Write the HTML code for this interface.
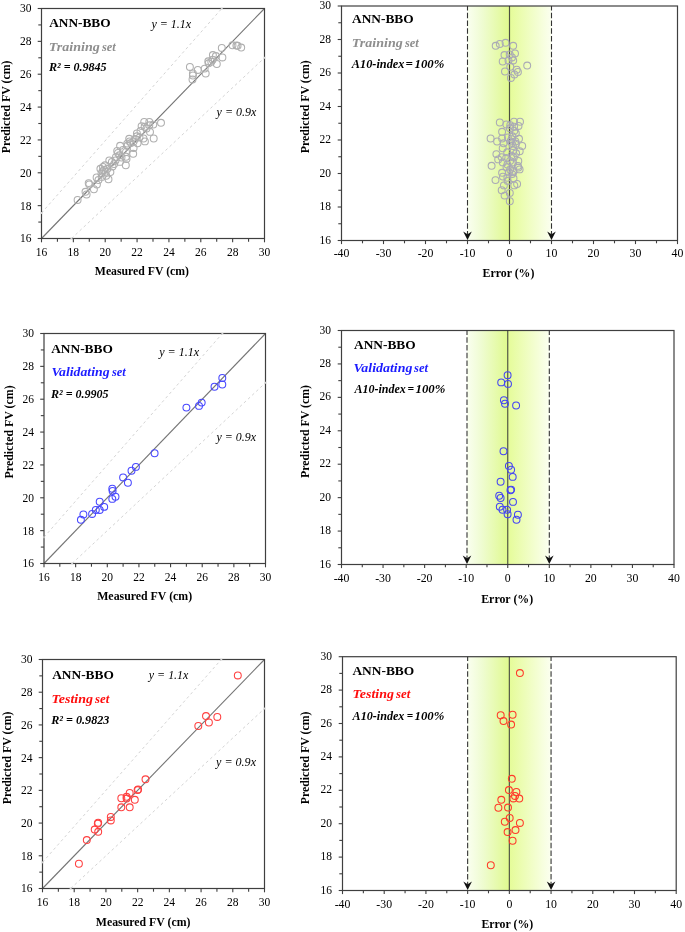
<!DOCTYPE html>
<html><head><meta charset="utf-8"><style>
html,body{margin:0;padding:0;background:#fff;overflow:hidden;}
svg{display:block;font-family:"Liberation Serif", serif;will-change:transform;}
</style></head><body>
<svg width="685" height="932" viewBox="0 0 685 932">
<rect width="685" height="932" fill="#fff"/>
<line x1="41.50" y1="213.00" x2="221.80" y2="8.50" stroke="#d4d4d4" stroke-width="1" stroke-dasharray="2.7 2.9"/>
<line x1="71.50" y1="238.50" x2="264.50" y2="57.80" stroke="#d4d4d4" stroke-width="1" stroke-dasharray="2.7 2.9"/>
<line x1="41.50" y1="238.50" x2="264.50" y2="8.50" stroke="#747474" stroke-width="1.1" />
<circle cx="77.6" cy="200.0" r="3.45" fill="none" stroke="#afafaf" stroke-width="1.05"/>
<circle cx="85.5" cy="191.8" r="3.45" fill="none" stroke="#afafaf" stroke-width="1.05"/>
<circle cx="86.6" cy="194.5" r="3.45" fill="none" stroke="#afafaf" stroke-width="1.05"/>
<circle cx="88.7" cy="183.1" r="3.45" fill="none" stroke="#afafaf" stroke-width="1.05"/>
<circle cx="89.3" cy="184.5" r="3.45" fill="none" stroke="#afafaf" stroke-width="1.05"/>
<circle cx="93.9" cy="189.2" r="3.45" fill="none" stroke="#afafaf" stroke-width="1.05"/>
<circle cx="96.9" cy="184.5" r="3.45" fill="none" stroke="#afafaf" stroke-width="1.05"/>
<circle cx="96.6" cy="177.5" r="3.45" fill="none" stroke="#afafaf" stroke-width="1.05"/>
<circle cx="100.4" cy="168.8" r="3.45" fill="none" stroke="#afafaf" stroke-width="1.05"/>
<circle cx="101.5" cy="173.4" r="3.45" fill="none" stroke="#afafaf" stroke-width="1.05"/>
<circle cx="105.0" cy="165.3" r="3.45" fill="none" stroke="#afafaf" stroke-width="1.05"/>
<circle cx="105.6" cy="171.7" r="3.45" fill="none" stroke="#afafaf" stroke-width="1.05"/>
<circle cx="106.2" cy="175.8" r="3.45" fill="none" stroke="#afafaf" stroke-width="1.05"/>
<circle cx="108.5" cy="179.3" r="3.45" fill="none" stroke="#afafaf" stroke-width="1.05"/>
<circle cx="107.4" cy="168.8" r="3.45" fill="none" stroke="#afafaf" stroke-width="1.05"/>
<circle cx="127.2" cy="143.6" r="3.45" fill="none" stroke="#afafaf" stroke-width="1.05"/>
<circle cx="126.5" cy="159.0" r="3.45" fill="none" stroke="#afafaf" stroke-width="1.05"/>
<circle cx="125.8" cy="165.2" r="3.45" fill="none" stroke="#afafaf" stroke-width="1.05"/>
<circle cx="119.9" cy="161.9" r="3.45" fill="none" stroke="#afafaf" stroke-width="1.05"/>
<circle cx="109.3" cy="160.4" r="3.45" fill="none" stroke="#afafaf" stroke-width="1.05"/>
<circle cx="111.9" cy="161.9" r="3.45" fill="none" stroke="#afafaf" stroke-width="1.05"/>
<circle cx="114.1" cy="164.1" r="3.45" fill="none" stroke="#afafaf" stroke-width="1.05"/>
<circle cx="110.4" cy="172.1" r="3.45" fill="none" stroke="#afafaf" stroke-width="1.05"/>
<circle cx="101.7" cy="176.9" r="3.45" fill="none" stroke="#afafaf" stroke-width="1.05"/>
<circle cx="144.2" cy="122.0" r="3.45" fill="none" stroke="#afafaf" stroke-width="1.05"/>
<circle cx="149.3" cy="122.0" r="3.45" fill="none" stroke="#afafaf" stroke-width="1.05"/>
<circle cx="153.3" cy="124.6" r="3.45" fill="none" stroke="#afafaf" stroke-width="1.05"/>
<circle cx="161.0" cy="122.8" r="3.45" fill="none" stroke="#afafaf" stroke-width="1.05"/>
<circle cx="141.6" cy="126.1" r="3.45" fill="none" stroke="#afafaf" stroke-width="1.05"/>
<circle cx="144.6" cy="126.8" r="3.45" fill="none" stroke="#afafaf" stroke-width="1.05"/>
<circle cx="149.3" cy="125.3" r="3.45" fill="none" stroke="#afafaf" stroke-width="1.05"/>
<circle cx="150.0" cy="131.9" r="3.45" fill="none" stroke="#afafaf" stroke-width="1.05"/>
<circle cx="153.7" cy="138.5" r="3.45" fill="none" stroke="#afafaf" stroke-width="1.05"/>
<circle cx="144.9" cy="141.4" r="3.45" fill="none" stroke="#afafaf" stroke-width="1.05"/>
<circle cx="143.5" cy="138.5" r="3.45" fill="none" stroke="#afafaf" stroke-width="1.05"/>
<circle cx="136.9" cy="133.4" r="3.45" fill="none" stroke="#afafaf" stroke-width="1.05"/>
<circle cx="136.9" cy="136.3" r="3.45" fill="none" stroke="#afafaf" stroke-width="1.05"/>
<circle cx="137.6" cy="143.2" r="3.45" fill="none" stroke="#afafaf" stroke-width="1.05"/>
<circle cx="129.2" cy="138.8" r="3.45" fill="none" stroke="#afafaf" stroke-width="1.05"/>
<circle cx="129.6" cy="141.4" r="3.45" fill="none" stroke="#afafaf" stroke-width="1.05"/>
<circle cx="120.1" cy="145.8" r="3.45" fill="none" stroke="#afafaf" stroke-width="1.05"/>
<circle cx="127.4" cy="145.8" r="3.45" fill="none" stroke="#afafaf" stroke-width="1.05"/>
<circle cx="133.6" cy="148.0" r="3.45" fill="none" stroke="#afafaf" stroke-width="1.05"/>
<circle cx="133.2" cy="153.8" r="3.45" fill="none" stroke="#afafaf" stroke-width="1.05"/>
<circle cx="117.2" cy="150.9" r="3.45" fill="none" stroke="#afafaf" stroke-width="1.05"/>
<circle cx="119.4" cy="155.3" r="3.45" fill="none" stroke="#afafaf" stroke-width="1.05"/>
<circle cx="126.0" cy="152.0" r="3.45" fill="none" stroke="#afafaf" stroke-width="1.05"/>
<circle cx="126.0" cy="156.7" r="3.45" fill="none" stroke="#afafaf" stroke-width="1.05"/>
<circle cx="133.6" cy="141.4" r="3.45" fill="none" stroke="#afafaf" stroke-width="1.05"/>
<circle cx="103.0" cy="167.0" r="3.45" fill="none" stroke="#afafaf" stroke-width="1.05"/>
<circle cx="104.0" cy="170.0" r="3.45" fill="none" stroke="#afafaf" stroke-width="1.05"/>
<circle cx="102.5" cy="171.5" r="3.45" fill="none" stroke="#afafaf" stroke-width="1.05"/>
<circle cx="116.0" cy="157.0" r="3.45" fill="none" stroke="#afafaf" stroke-width="1.05"/>
<circle cx="118.0" cy="153.0" r="3.45" fill="none" stroke="#afafaf" stroke-width="1.05"/>
<circle cx="121.5" cy="157.5" r="3.45" fill="none" stroke="#afafaf" stroke-width="1.05"/>
<circle cx="131.0" cy="143.0" r="3.45" fill="none" stroke="#afafaf" stroke-width="1.05"/>
<circle cx="135.0" cy="139.0" r="3.45" fill="none" stroke="#afafaf" stroke-width="1.05"/>
<circle cx="139.5" cy="137.5" r="3.45" fill="none" stroke="#afafaf" stroke-width="1.05"/>
<circle cx="115.5" cy="160.5" r="3.45" fill="none" stroke="#afafaf" stroke-width="1.05"/>
<circle cx="123.0" cy="150.0" r="3.45" fill="none" stroke="#afafaf" stroke-width="1.05"/>
<circle cx="140.5" cy="131.0" r="3.45" fill="none" stroke="#afafaf" stroke-width="1.05"/>
<circle cx="146.5" cy="128.5" r="3.45" fill="none" stroke="#afafaf" stroke-width="1.05"/>
<circle cx="112.5" cy="166.5" r="3.45" fill="none" stroke="#afafaf" stroke-width="1.05"/>
<circle cx="98.5" cy="180.0" r="3.45" fill="none" stroke="#afafaf" stroke-width="1.05"/>
<circle cx="189.9" cy="66.9" r="3.45" fill="none" stroke="#afafaf" stroke-width="1.05"/>
<circle cx="192.9" cy="73.5" r="3.45" fill="none" stroke="#afafaf" stroke-width="1.05"/>
<circle cx="192.9" cy="75.5" r="3.45" fill="none" stroke="#afafaf" stroke-width="1.05"/>
<circle cx="192.5" cy="79.4" r="3.45" fill="none" stroke="#afafaf" stroke-width="1.05"/>
<circle cx="197.8" cy="69.9" r="3.45" fill="none" stroke="#afafaf" stroke-width="1.05"/>
<circle cx="204.7" cy="68.6" r="3.45" fill="none" stroke="#afafaf" stroke-width="1.05"/>
<circle cx="205.7" cy="73.5" r="3.45" fill="none" stroke="#afafaf" stroke-width="1.05"/>
<circle cx="208.3" cy="61.3" r="3.45" fill="none" stroke="#afafaf" stroke-width="1.05"/>
<circle cx="208.6" cy="63.3" r="3.45" fill="none" stroke="#afafaf" stroke-width="1.05"/>
<circle cx="212.9" cy="55.1" r="3.45" fill="none" stroke="#afafaf" stroke-width="1.05"/>
<circle cx="212.6" cy="59.7" r="3.45" fill="none" stroke="#afafaf" stroke-width="1.05"/>
<circle cx="215.9" cy="56.1" r="3.45" fill="none" stroke="#afafaf" stroke-width="1.05"/>
<circle cx="216.8" cy="64.0" r="3.45" fill="none" stroke="#afafaf" stroke-width="1.05"/>
<circle cx="221.8" cy="47.9" r="3.45" fill="none" stroke="#afafaf" stroke-width="1.05"/>
<circle cx="222.4" cy="57.4" r="3.45" fill="none" stroke="#afafaf" stroke-width="1.05"/>
<circle cx="211.3" cy="61.7" r="3.45" fill="none" stroke="#afafaf" stroke-width="1.05"/>
<circle cx="232.5" cy="45.3" r="3.45" fill="none" stroke="#afafaf" stroke-width="1.05"/>
<circle cx="236.4" cy="45.6" r="3.45" fill="none" stroke="#afafaf" stroke-width="1.05"/>
<circle cx="237.6" cy="45.8" r="3.45" fill="none" stroke="#afafaf" stroke-width="1.05"/>
<circle cx="241.2" cy="47.6" r="3.45" fill="none" stroke="#afafaf" stroke-width="1.05"/>
<rect x="41.5" y="8.5" width="223.0" height="230.0" fill="none" stroke="#3f3f3f" stroke-width="1.2"/>
<rect x="220.80" y="7.80" width="2.0" height="1.4" fill="#d2d2d2"/>
<rect x="263.80" y="56.80" width="1.4" height="2.0" fill="#d2d2d2"/>
<rect x="40.80" y="212.00" width="1.4" height="2.0" fill="#d2d2d2"/>
<rect x="70.50" y="237.80" width="2.0" height="1.4" fill="#d2d2d2"/>
<line x1="41.50" y1="238.50" x2="41.50" y2="242.30" stroke="#3f3f3f" stroke-width="1.1" />
<line x1="37.70" y1="238.50" x2="41.50" y2="238.50" stroke="#3f3f3f" stroke-width="1.1" />
<text x="41.50" y="255.90" font-size="11.5" text-anchor="middle" font-weight="normal" font-style="normal" fill="#000" >16</text>
<text x="31.50" y="242.40" font-size="11.5" text-anchor="end" font-weight="normal" font-style="normal" fill="#000" >16</text>
<line x1="57.43" y1="238.50" x2="57.43" y2="241.70" stroke="#3f3f3f" stroke-width="1.1" />
<line x1="38.30" y1="222.07" x2="41.50" y2="222.07" stroke="#3f3f3f" stroke-width="1.1" />
<line x1="73.36" y1="238.50" x2="73.36" y2="242.30" stroke="#3f3f3f" stroke-width="1.1" />
<line x1="37.70" y1="205.64" x2="41.50" y2="205.64" stroke="#3f3f3f" stroke-width="1.1" />
<text x="73.36" y="255.90" font-size="11.5" text-anchor="middle" font-weight="normal" font-style="normal" fill="#000" >18</text>
<text x="31.50" y="209.54" font-size="11.5" text-anchor="end" font-weight="normal" font-style="normal" fill="#000" >18</text>
<line x1="89.29" y1="238.50" x2="89.29" y2="241.70" stroke="#3f3f3f" stroke-width="1.1" />
<line x1="38.30" y1="189.21" x2="41.50" y2="189.21" stroke="#3f3f3f" stroke-width="1.1" />
<line x1="105.21" y1="238.50" x2="105.21" y2="242.30" stroke="#3f3f3f" stroke-width="1.1" />
<line x1="37.70" y1="172.79" x2="41.50" y2="172.79" stroke="#3f3f3f" stroke-width="1.1" />
<text x="105.21" y="255.90" font-size="11.5" text-anchor="middle" font-weight="normal" font-style="normal" fill="#000" >20</text>
<text x="31.50" y="176.69" font-size="11.5" text-anchor="end" font-weight="normal" font-style="normal" fill="#000" >20</text>
<line x1="121.14" y1="238.50" x2="121.14" y2="241.70" stroke="#3f3f3f" stroke-width="1.1" />
<line x1="38.30" y1="156.36" x2="41.50" y2="156.36" stroke="#3f3f3f" stroke-width="1.1" />
<line x1="137.07" y1="238.50" x2="137.07" y2="242.30" stroke="#3f3f3f" stroke-width="1.1" />
<line x1="37.70" y1="139.93" x2="41.50" y2="139.93" stroke="#3f3f3f" stroke-width="1.1" />
<text x="137.07" y="255.90" font-size="11.5" text-anchor="middle" font-weight="normal" font-style="normal" fill="#000" >22</text>
<text x="31.50" y="143.83" font-size="11.5" text-anchor="end" font-weight="normal" font-style="normal" fill="#000" >22</text>
<line x1="153.00" y1="238.50" x2="153.00" y2="241.70" stroke="#3f3f3f" stroke-width="1.1" />
<line x1="38.30" y1="123.50" x2="41.50" y2="123.50" stroke="#3f3f3f" stroke-width="1.1" />
<line x1="168.93" y1="238.50" x2="168.93" y2="242.30" stroke="#3f3f3f" stroke-width="1.1" />
<line x1="37.70" y1="107.07" x2="41.50" y2="107.07" stroke="#3f3f3f" stroke-width="1.1" />
<text x="168.93" y="255.90" font-size="11.5" text-anchor="middle" font-weight="normal" font-style="normal" fill="#000" >24</text>
<text x="31.50" y="110.97" font-size="11.5" text-anchor="end" font-weight="normal" font-style="normal" fill="#000" >24</text>
<line x1="184.86" y1="238.50" x2="184.86" y2="241.70" stroke="#3f3f3f" stroke-width="1.1" />
<line x1="38.30" y1="90.64" x2="41.50" y2="90.64" stroke="#3f3f3f" stroke-width="1.1" />
<line x1="200.79" y1="238.50" x2="200.79" y2="242.30" stroke="#3f3f3f" stroke-width="1.1" />
<line x1="37.70" y1="74.21" x2="41.50" y2="74.21" stroke="#3f3f3f" stroke-width="1.1" />
<text x="200.79" y="255.90" font-size="11.5" text-anchor="middle" font-weight="normal" font-style="normal" fill="#000" >26</text>
<text x="31.50" y="78.11" font-size="11.5" text-anchor="end" font-weight="normal" font-style="normal" fill="#000" >26</text>
<line x1="216.71" y1="238.50" x2="216.71" y2="241.70" stroke="#3f3f3f" stroke-width="1.1" />
<line x1="38.30" y1="57.79" x2="41.50" y2="57.79" stroke="#3f3f3f" stroke-width="1.1" />
<line x1="232.64" y1="238.50" x2="232.64" y2="242.30" stroke="#3f3f3f" stroke-width="1.1" />
<line x1="37.70" y1="41.36" x2="41.50" y2="41.36" stroke="#3f3f3f" stroke-width="1.1" />
<text x="232.64" y="255.90" font-size="11.5" text-anchor="middle" font-weight="normal" font-style="normal" fill="#000" >28</text>
<text x="31.50" y="45.26" font-size="11.5" text-anchor="end" font-weight="normal" font-style="normal" fill="#000" >28</text>
<line x1="248.57" y1="238.50" x2="248.57" y2="241.70" stroke="#3f3f3f" stroke-width="1.1" />
<line x1="38.30" y1="24.93" x2="41.50" y2="24.93" stroke="#3f3f3f" stroke-width="1.1" />
<line x1="264.50" y1="238.50" x2="264.50" y2="242.30" stroke="#3f3f3f" stroke-width="1.1" />
<line x1="37.70" y1="8.50" x2="41.50" y2="8.50" stroke="#3f3f3f" stroke-width="1.1" />
<text x="264.50" y="255.90" font-size="11.5" text-anchor="middle" font-weight="normal" font-style="normal" fill="#000" >30</text>
<text x="31.50" y="12.40" font-size="11.5" text-anchor="end" font-weight="normal" font-style="normal" fill="#000" >30</text>
<line x1="44.00" y1="537.21" x2="222.35" y2="333.50" stroke="#d4d4d4" stroke-width="1" stroke-dasharray="2.7 2.9"/>
<line x1="72.13" y1="563.50" x2="265.50" y2="382.79" stroke="#d4d4d4" stroke-width="1" stroke-dasharray="2.7 2.9"/>
<line x1="44.00" y1="563.50" x2="265.50" y2="333.50" stroke="#747474" stroke-width="1.1" />
<circle cx="80.9" cy="519.8" r="3.45" fill="none" stroke="#4848ff" stroke-width="1.05"/>
<circle cx="83.4" cy="514.4" r="3.45" fill="none" stroke="#4848ff" stroke-width="1.05"/>
<circle cx="92.1" cy="513.9" r="3.45" fill="none" stroke="#4848ff" stroke-width="1.05"/>
<circle cx="95.8" cy="509.9" r="3.45" fill="none" stroke="#4848ff" stroke-width="1.05"/>
<circle cx="99.7" cy="509.9" r="3.45" fill="none" stroke="#4848ff" stroke-width="1.05"/>
<circle cx="99.7" cy="501.8" r="3.45" fill="none" stroke="#4848ff" stroke-width="1.05"/>
<circle cx="104.2" cy="506.9" r="3.45" fill="none" stroke="#4848ff" stroke-width="1.05"/>
<circle cx="112.3" cy="488.7" r="3.45" fill="none" stroke="#4848ff" stroke-width="1.05"/>
<circle cx="112.6" cy="490.9" r="3.45" fill="none" stroke="#4848ff" stroke-width="1.05"/>
<circle cx="112.3" cy="498.9" r="3.45" fill="none" stroke="#4848ff" stroke-width="1.05"/>
<circle cx="115.5" cy="496.7" r="3.45" fill="none" stroke="#4848ff" stroke-width="1.05"/>
<circle cx="123.1" cy="477.4" r="3.45" fill="none" stroke="#4848ff" stroke-width="1.05"/>
<circle cx="127.9" cy="482.7" r="3.45" fill="none" stroke="#4848ff" stroke-width="1.05"/>
<circle cx="131.5" cy="470.7" r="3.45" fill="none" stroke="#4848ff" stroke-width="1.05"/>
<circle cx="135.9" cy="466.9" r="3.45" fill="none" stroke="#4848ff" stroke-width="1.05"/>
<circle cx="154.6" cy="453.2" r="3.45" fill="none" stroke="#4848ff" stroke-width="1.05"/>
<circle cx="186.4" cy="407.6" r="3.45" fill="none" stroke="#4848ff" stroke-width="1.05"/>
<circle cx="199.0" cy="405.9" r="3.45" fill="none" stroke="#4848ff" stroke-width="1.05"/>
<circle cx="201.7" cy="402.6" r="3.45" fill="none" stroke="#4848ff" stroke-width="1.05"/>
<circle cx="214.5" cy="386.8" r="3.45" fill="none" stroke="#4848ff" stroke-width="1.05"/>
<circle cx="222.3" cy="378.0" r="3.45" fill="none" stroke="#4848ff" stroke-width="1.05"/>
<circle cx="222.3" cy="384.5" r="3.45" fill="none" stroke="#4848ff" stroke-width="1.05"/>
<rect x="44.0" y="333.5" width="221.5" height="230.0" fill="none" stroke="#3f3f3f" stroke-width="1.2"/>
<rect x="221.35" y="332.80" width="2.0" height="1.4" fill="#d2d2d2"/>
<rect x="264.80" y="381.79" width="1.4" height="2.0" fill="#d2d2d2"/>
<rect x="43.30" y="536.21" width="1.4" height="2.0" fill="#d2d2d2"/>
<rect x="71.13" y="562.80" width="2.0" height="1.4" fill="#d2d2d2"/>
<line x1="44.00" y1="563.50" x2="44.00" y2="567.30" stroke="#3f3f3f" stroke-width="1.1" />
<line x1="40.20" y1="563.50" x2="44.00" y2="563.50" stroke="#3f3f3f" stroke-width="1.1" />
<text x="44.00" y="580.90" font-size="11.5" text-anchor="middle" font-weight="normal" font-style="normal" fill="#000" >16</text>
<text x="34.00" y="567.40" font-size="11.5" text-anchor="end" font-weight="normal" font-style="normal" fill="#000" >16</text>
<line x1="59.82" y1="563.50" x2="59.82" y2="566.70" stroke="#3f3f3f" stroke-width="1.1" />
<line x1="40.80" y1="547.07" x2="44.00" y2="547.07" stroke="#3f3f3f" stroke-width="1.1" />
<line x1="75.64" y1="563.50" x2="75.64" y2="567.30" stroke="#3f3f3f" stroke-width="1.1" />
<line x1="40.20" y1="530.64" x2="44.00" y2="530.64" stroke="#3f3f3f" stroke-width="1.1" />
<text x="75.64" y="580.90" font-size="11.5" text-anchor="middle" font-weight="normal" font-style="normal" fill="#000" >18</text>
<text x="34.00" y="534.54" font-size="11.5" text-anchor="end" font-weight="normal" font-style="normal" fill="#000" >18</text>
<line x1="91.46" y1="563.50" x2="91.46" y2="566.70" stroke="#3f3f3f" stroke-width="1.1" />
<line x1="40.80" y1="514.21" x2="44.00" y2="514.21" stroke="#3f3f3f" stroke-width="1.1" />
<line x1="107.29" y1="563.50" x2="107.29" y2="567.30" stroke="#3f3f3f" stroke-width="1.1" />
<line x1="40.20" y1="497.79" x2="44.00" y2="497.79" stroke="#3f3f3f" stroke-width="1.1" />
<text x="107.29" y="580.90" font-size="11.5" text-anchor="middle" font-weight="normal" font-style="normal" fill="#000" >20</text>
<text x="34.00" y="501.69" font-size="11.5" text-anchor="end" font-weight="normal" font-style="normal" fill="#000" >20</text>
<line x1="123.11" y1="563.50" x2="123.11" y2="566.70" stroke="#3f3f3f" stroke-width="1.1" />
<line x1="40.80" y1="481.36" x2="44.00" y2="481.36" stroke="#3f3f3f" stroke-width="1.1" />
<line x1="138.93" y1="563.50" x2="138.93" y2="567.30" stroke="#3f3f3f" stroke-width="1.1" />
<line x1="40.20" y1="464.93" x2="44.00" y2="464.93" stroke="#3f3f3f" stroke-width="1.1" />
<text x="138.93" y="580.90" font-size="11.5" text-anchor="middle" font-weight="normal" font-style="normal" fill="#000" >22</text>
<text x="34.00" y="468.83" font-size="11.5" text-anchor="end" font-weight="normal" font-style="normal" fill="#000" >22</text>
<line x1="154.75" y1="563.50" x2="154.75" y2="566.70" stroke="#3f3f3f" stroke-width="1.1" />
<line x1="40.80" y1="448.50" x2="44.00" y2="448.50" stroke="#3f3f3f" stroke-width="1.1" />
<line x1="170.57" y1="563.50" x2="170.57" y2="567.30" stroke="#3f3f3f" stroke-width="1.1" />
<line x1="40.20" y1="432.07" x2="44.00" y2="432.07" stroke="#3f3f3f" stroke-width="1.1" />
<text x="170.57" y="580.90" font-size="11.5" text-anchor="middle" font-weight="normal" font-style="normal" fill="#000" >24</text>
<text x="34.00" y="435.97" font-size="11.5" text-anchor="end" font-weight="normal" font-style="normal" fill="#000" >24</text>
<line x1="186.39" y1="563.50" x2="186.39" y2="566.70" stroke="#3f3f3f" stroke-width="1.1" />
<line x1="40.80" y1="415.64" x2="44.00" y2="415.64" stroke="#3f3f3f" stroke-width="1.1" />
<line x1="202.21" y1="563.50" x2="202.21" y2="567.30" stroke="#3f3f3f" stroke-width="1.1" />
<line x1="40.20" y1="399.21" x2="44.00" y2="399.21" stroke="#3f3f3f" stroke-width="1.1" />
<text x="202.21" y="580.90" font-size="11.5" text-anchor="middle" font-weight="normal" font-style="normal" fill="#000" >26</text>
<text x="34.00" y="403.11" font-size="11.5" text-anchor="end" font-weight="normal" font-style="normal" fill="#000" >26</text>
<line x1="218.04" y1="563.50" x2="218.04" y2="566.70" stroke="#3f3f3f" stroke-width="1.1" />
<line x1="40.80" y1="382.79" x2="44.00" y2="382.79" stroke="#3f3f3f" stroke-width="1.1" />
<line x1="233.86" y1="563.50" x2="233.86" y2="567.30" stroke="#3f3f3f" stroke-width="1.1" />
<line x1="40.20" y1="366.36" x2="44.00" y2="366.36" stroke="#3f3f3f" stroke-width="1.1" />
<text x="233.86" y="580.90" font-size="11.5" text-anchor="middle" font-weight="normal" font-style="normal" fill="#000" >28</text>
<text x="34.00" y="370.26" font-size="11.5" text-anchor="end" font-weight="normal" font-style="normal" fill="#000" >28</text>
<line x1="249.68" y1="563.50" x2="249.68" y2="566.70" stroke="#3f3f3f" stroke-width="1.1" />
<line x1="40.80" y1="349.93" x2="44.00" y2="349.93" stroke="#3f3f3f" stroke-width="1.1" />
<line x1="265.50" y1="563.50" x2="265.50" y2="567.30" stroke="#3f3f3f" stroke-width="1.1" />
<line x1="40.20" y1="333.50" x2="44.00" y2="333.50" stroke="#3f3f3f" stroke-width="1.1" />
<text x="265.50" y="580.90" font-size="11.5" text-anchor="middle" font-weight="normal" font-style="normal" fill="#000" >30</text>
<text x="34.00" y="337.40" font-size="11.5" text-anchor="end" font-weight="normal" font-style="normal" fill="#000" >30</text>
<line x1="42.50" y1="862.33" x2="221.25" y2="659.50" stroke="#d4d4d4" stroke-width="1" stroke-dasharray="2.7 2.9"/>
<line x1="70.69" y1="888.50" x2="264.50" y2="708.57" stroke="#d4d4d4" stroke-width="1" stroke-dasharray="2.7 2.9"/>
<line x1="42.50" y1="888.50" x2="264.50" y2="659.50" stroke="#747474" stroke-width="1.1" />
<circle cx="78.9" cy="863.7" r="3.45" fill="none" stroke="#ff4040" stroke-width="1.05"/>
<circle cx="86.8" cy="840.1" r="3.45" fill="none" stroke="#ff4040" stroke-width="1.05"/>
<circle cx="94.7" cy="829.6" r="3.45" fill="none" stroke="#ff4040" stroke-width="1.05"/>
<circle cx="98.2" cy="831.8" r="3.45" fill="none" stroke="#ff4040" stroke-width="1.05"/>
<circle cx="98.2" cy="822.7" r="3.45" fill="none" stroke="#ff4040" stroke-width="1.05"/>
<circle cx="97.8" cy="823.6" r="3.45" fill="none" stroke="#ff4040" stroke-width="1.05"/>
<circle cx="110.8" cy="816.9" r="3.45" fill="none" stroke="#ff4040" stroke-width="1.05"/>
<circle cx="110.8" cy="820.4" r="3.45" fill="none" stroke="#ff4040" stroke-width="1.05"/>
<circle cx="121.3" cy="807.3" r="3.45" fill="none" stroke="#ff4040" stroke-width="1.05"/>
<circle cx="121.3" cy="798.2" r="3.45" fill="none" stroke="#ff4040" stroke-width="1.05"/>
<circle cx="126.6" cy="796.8" r="3.45" fill="none" stroke="#ff4040" stroke-width="1.05"/>
<circle cx="126.6" cy="798.6" r="3.45" fill="none" stroke="#ff4040" stroke-width="1.05"/>
<circle cx="129.7" cy="792.9" r="3.45" fill="none" stroke="#ff4040" stroke-width="1.05"/>
<circle cx="129.7" cy="807.3" r="3.45" fill="none" stroke="#ff4040" stroke-width="1.05"/>
<circle cx="134.8" cy="799.8" r="3.45" fill="none" stroke="#ff4040" stroke-width="1.05"/>
<circle cx="137.6" cy="790.1" r="3.45" fill="none" stroke="#ff4040" stroke-width="1.05"/>
<circle cx="138.1" cy="789.4" r="3.45" fill="none" stroke="#ff4040" stroke-width="1.05"/>
<circle cx="145.5" cy="779.3" r="3.45" fill="none" stroke="#ff4040" stroke-width="1.05"/>
<circle cx="237.8" cy="675.4" r="3.45" fill="none" stroke="#ff4040" stroke-width="1.05"/>
<circle cx="198.3" cy="726.0" r="3.45" fill="none" stroke="#ff4040" stroke-width="1.05"/>
<circle cx="206.0" cy="716.1" r="3.45" fill="none" stroke="#ff4040" stroke-width="1.05"/>
<circle cx="208.9" cy="722.5" r="3.45" fill="none" stroke="#ff4040" stroke-width="1.05"/>
<circle cx="217.3" cy="716.9" r="3.45" fill="none" stroke="#ff4040" stroke-width="1.05"/>
<rect x="42.5" y="659.5" width="222.0" height="229.0" fill="none" stroke="#3f3f3f" stroke-width="1.2"/>
<rect x="220.25" y="658.80" width="2.0" height="1.4" fill="#d2d2d2"/>
<rect x="263.80" y="707.57" width="1.4" height="2.0" fill="#d2d2d2"/>
<rect x="41.80" y="861.33" width="1.4" height="2.0" fill="#d2d2d2"/>
<rect x="69.69" y="887.80" width="2.0" height="1.4" fill="#d2d2d2"/>
<line x1="42.50" y1="888.50" x2="42.50" y2="892.30" stroke="#3f3f3f" stroke-width="1.1" />
<line x1="38.70" y1="888.50" x2="42.50" y2="888.50" stroke="#3f3f3f" stroke-width="1.1" />
<text x="42.50" y="905.90" font-size="11.5" text-anchor="middle" font-weight="normal" font-style="normal" fill="#000" >16</text>
<text x="32.50" y="892.40" font-size="11.5" text-anchor="end" font-weight="normal" font-style="normal" fill="#000" >16</text>
<line x1="58.36" y1="888.50" x2="58.36" y2="891.70" stroke="#3f3f3f" stroke-width="1.1" />
<line x1="39.30" y1="872.14" x2="42.50" y2="872.14" stroke="#3f3f3f" stroke-width="1.1" />
<line x1="74.21" y1="888.50" x2="74.21" y2="892.30" stroke="#3f3f3f" stroke-width="1.1" />
<line x1="38.70" y1="855.79" x2="42.50" y2="855.79" stroke="#3f3f3f" stroke-width="1.1" />
<text x="74.21" y="905.90" font-size="11.5" text-anchor="middle" font-weight="normal" font-style="normal" fill="#000" >18</text>
<text x="32.50" y="859.69" font-size="11.5" text-anchor="end" font-weight="normal" font-style="normal" fill="#000" >18</text>
<line x1="90.07" y1="888.50" x2="90.07" y2="891.70" stroke="#3f3f3f" stroke-width="1.1" />
<line x1="39.30" y1="839.43" x2="42.50" y2="839.43" stroke="#3f3f3f" stroke-width="1.1" />
<line x1="105.93" y1="888.50" x2="105.93" y2="892.30" stroke="#3f3f3f" stroke-width="1.1" />
<line x1="38.70" y1="823.07" x2="42.50" y2="823.07" stroke="#3f3f3f" stroke-width="1.1" />
<text x="105.93" y="905.90" font-size="11.5" text-anchor="middle" font-weight="normal" font-style="normal" fill="#000" >20</text>
<text x="32.50" y="826.97" font-size="11.5" text-anchor="end" font-weight="normal" font-style="normal" fill="#000" >20</text>
<line x1="121.79" y1="888.50" x2="121.79" y2="891.70" stroke="#3f3f3f" stroke-width="1.1" />
<line x1="39.30" y1="806.71" x2="42.50" y2="806.71" stroke="#3f3f3f" stroke-width="1.1" />
<line x1="137.64" y1="888.50" x2="137.64" y2="892.30" stroke="#3f3f3f" stroke-width="1.1" />
<line x1="38.70" y1="790.36" x2="42.50" y2="790.36" stroke="#3f3f3f" stroke-width="1.1" />
<text x="137.64" y="905.90" font-size="11.5" text-anchor="middle" font-weight="normal" font-style="normal" fill="#000" >22</text>
<text x="32.50" y="794.26" font-size="11.5" text-anchor="end" font-weight="normal" font-style="normal" fill="#000" >22</text>
<line x1="153.50" y1="888.50" x2="153.50" y2="891.70" stroke="#3f3f3f" stroke-width="1.1" />
<line x1="39.30" y1="774.00" x2="42.50" y2="774.00" stroke="#3f3f3f" stroke-width="1.1" />
<line x1="169.36" y1="888.50" x2="169.36" y2="892.30" stroke="#3f3f3f" stroke-width="1.1" />
<line x1="38.70" y1="757.64" x2="42.50" y2="757.64" stroke="#3f3f3f" stroke-width="1.1" />
<text x="169.36" y="905.90" font-size="11.5" text-anchor="middle" font-weight="normal" font-style="normal" fill="#000" >24</text>
<text x="32.50" y="761.54" font-size="11.5" text-anchor="end" font-weight="normal" font-style="normal" fill="#000" >24</text>
<line x1="185.21" y1="888.50" x2="185.21" y2="891.70" stroke="#3f3f3f" stroke-width="1.1" />
<line x1="39.30" y1="741.29" x2="42.50" y2="741.29" stroke="#3f3f3f" stroke-width="1.1" />
<line x1="201.07" y1="888.50" x2="201.07" y2="892.30" stroke="#3f3f3f" stroke-width="1.1" />
<line x1="38.70" y1="724.93" x2="42.50" y2="724.93" stroke="#3f3f3f" stroke-width="1.1" />
<text x="201.07" y="905.90" font-size="11.5" text-anchor="middle" font-weight="normal" font-style="normal" fill="#000" >26</text>
<text x="32.50" y="728.83" font-size="11.5" text-anchor="end" font-weight="normal" font-style="normal" fill="#000" >26</text>
<line x1="216.93" y1="888.50" x2="216.93" y2="891.70" stroke="#3f3f3f" stroke-width="1.1" />
<line x1="39.30" y1="708.57" x2="42.50" y2="708.57" stroke="#3f3f3f" stroke-width="1.1" />
<line x1="232.79" y1="888.50" x2="232.79" y2="892.30" stroke="#3f3f3f" stroke-width="1.1" />
<line x1="38.70" y1="692.21" x2="42.50" y2="692.21" stroke="#3f3f3f" stroke-width="1.1" />
<text x="232.79" y="905.90" font-size="11.5" text-anchor="middle" font-weight="normal" font-style="normal" fill="#000" >28</text>
<text x="32.50" y="696.11" font-size="11.5" text-anchor="end" font-weight="normal" font-style="normal" fill="#000" >28</text>
<line x1="248.64" y1="888.50" x2="248.64" y2="891.70" stroke="#3f3f3f" stroke-width="1.1" />
<line x1="39.30" y1="675.86" x2="42.50" y2="675.86" stroke="#3f3f3f" stroke-width="1.1" />
<line x1="264.50" y1="888.50" x2="264.50" y2="892.30" stroke="#3f3f3f" stroke-width="1.1" />
<line x1="38.70" y1="659.50" x2="42.50" y2="659.50" stroke="#3f3f3f" stroke-width="1.1" />
<text x="264.50" y="905.90" font-size="11.5" text-anchor="middle" font-weight="normal" font-style="normal" fill="#000" >30</text>
<text x="32.50" y="663.40" font-size="11.5" text-anchor="end" font-weight="normal" font-style="normal" fill="#000" >30</text>
<defs><linearGradient id="g1a" x1="0" x2="1" y1="0" y2="0"><stop offset="0" stop-color="#fafff0"/><stop offset="0.35" stop-color="#effcd2"/><stop offset="1" stop-color="#dff98e"/></linearGradient><linearGradient id="g1b" x1="0" x2="1" y1="0" y2="0"><stop offset="0" stop-color="#e5fc98"/><stop offset="1" stop-color="#fbfff0"/></linearGradient></defs>
<rect x="467.50" y="6.0" width="42.00" height="234.5" fill="url(#g1a)"/>
<rect x="509.50" y="6.0" width="42.00" height="234.5" fill="url(#g1b)"/>
<rect x="341.5" y="6.0" width="336.0" height="234.5" fill="none" stroke="#3f3f3f" stroke-width="1.2"/>
<line x1="509.50" y1="6.00" x2="509.50" y2="240.50" stroke="#2a2a2a" stroke-width="1.15" stroke-opacity="0.82"/>
<circle cx="509.8" cy="201.2" r="3.45" fill="none" stroke="#aaaab6" stroke-width="1.05"/>
<circle cx="509.8" cy="192.9" r="3.45" fill="none" stroke="#aaaab6" stroke-width="1.05"/>
<circle cx="504.6" cy="195.6" r="3.45" fill="none" stroke="#aaaab6" stroke-width="1.05"/>
<circle cx="517.1" cy="184.0" r="3.45" fill="none" stroke="#aaaab6" stroke-width="1.05"/>
<circle cx="514.3" cy="185.4" r="3.45" fill="none" stroke="#aaaab6" stroke-width="1.05"/>
<circle cx="501.7" cy="190.2" r="3.45" fill="none" stroke="#aaaab6" stroke-width="1.05"/>
<circle cx="503.9" cy="185.4" r="3.45" fill="none" stroke="#aaaab6" stroke-width="1.05"/>
<circle cx="513.5" cy="178.3" r="3.45" fill="none" stroke="#aaaab6" stroke-width="1.05"/>
<circle cx="519.6" cy="169.4" r="3.45" fill="none" stroke="#aaaab6" stroke-width="1.05"/>
<circle cx="512.2" cy="174.1" r="3.45" fill="none" stroke="#aaaab6" stroke-width="1.05"/>
<circle cx="517.9" cy="165.9" r="3.45" fill="none" stroke="#aaaab6" stroke-width="1.05"/>
<circle cx="508.9" cy="172.4" r="3.45" fill="none" stroke="#aaaab6" stroke-width="1.05"/>
<circle cx="502.9" cy="176.6" r="3.45" fill="none" stroke="#aaaab6" stroke-width="1.05"/>
<circle cx="495.5" cy="180.1" r="3.45" fill="none" stroke="#aaaab6" stroke-width="1.05"/>
<circle cx="510.2" cy="169.4" r="3.45" fill="none" stroke="#aaaab6" stroke-width="1.05"/>
<circle cx="515.8" cy="143.7" r="3.45" fill="none" stroke="#aaaab6" stroke-width="1.05"/>
<circle cx="498.2" cy="159.4" r="3.45" fill="none" stroke="#aaaab6" stroke-width="1.05"/>
<circle cx="491.6" cy="165.8" r="3.45" fill="none" stroke="#aaaab6" stroke-width="1.05"/>
<circle cx="502.8" cy="162.4" r="3.45" fill="none" stroke="#aaaab6" stroke-width="1.05"/>
<circle cx="518.3" cy="160.9" r="3.45" fill="none" stroke="#aaaab6" stroke-width="1.05"/>
<circle cx="513.0" cy="162.4" r="3.45" fill="none" stroke="#aaaab6" stroke-width="1.05"/>
<circle cx="507.4" cy="164.6" r="3.45" fill="none" stroke="#aaaab6" stroke-width="1.05"/>
<circle cx="502.1" cy="172.8" r="3.45" fill="none" stroke="#aaaab6" stroke-width="1.05"/>
<circle cx="507.4" cy="177.7" r="3.45" fill="none" stroke="#aaaab6" stroke-width="1.05"/>
<circle cx="520.0" cy="121.7" r="3.45" fill="none" stroke="#aaaab6" stroke-width="1.05"/>
<circle cx="514.0" cy="121.7" r="3.45" fill="none" stroke="#aaaab6" stroke-width="1.05"/>
<circle cx="506.4" cy="124.4" r="3.45" fill="none" stroke="#aaaab6" stroke-width="1.05"/>
<circle cx="499.8" cy="122.5" r="3.45" fill="none" stroke="#aaaab6" stroke-width="1.05"/>
<circle cx="518.5" cy="125.9" r="3.45" fill="none" stroke="#aaaab6" stroke-width="1.05"/>
<circle cx="514.1" cy="126.6" r="3.45" fill="none" stroke="#aaaab6" stroke-width="1.05"/>
<circle cx="510.3" cy="125.1" r="3.45" fill="none" stroke="#aaaab6" stroke-width="1.05"/>
<circle cx="502.1" cy="131.8" r="3.45" fill="none" stroke="#aaaab6" stroke-width="1.05"/>
<circle cx="490.6" cy="138.5" r="3.45" fill="none" stroke="#aaaab6" stroke-width="1.05"/>
<circle cx="497.1" cy="141.5" r="3.45" fill="none" stroke="#aaaab6" stroke-width="1.05"/>
<circle cx="502.1" cy="138.5" r="3.45" fill="none" stroke="#aaaab6" stroke-width="1.05"/>
<circle cx="515.8" cy="133.3" r="3.45" fill="none" stroke="#aaaab6" stroke-width="1.05"/>
<circle cx="512.4" cy="136.3" r="3.45" fill="none" stroke="#aaaab6" stroke-width="1.05"/>
<circle cx="503.6" cy="143.3" r="3.45" fill="none" stroke="#aaaab6" stroke-width="1.05"/>
<circle cx="519.0" cy="138.8" r="3.45" fill="none" stroke="#aaaab6" stroke-width="1.05"/>
<circle cx="515.4" cy="141.5" r="3.45" fill="none" stroke="#aaaab6" stroke-width="1.05"/>
<circle cx="522.2" cy="146.0" r="3.45" fill="none" stroke="#aaaab6" stroke-width="1.05"/>
<circle cx="512.9" cy="146.0" r="3.45" fill="none" stroke="#aaaab6" stroke-width="1.05"/>
<circle cx="502.7" cy="148.2" r="3.45" fill="none" stroke="#aaaab6" stroke-width="1.05"/>
<circle cx="496.4" cy="154.1" r="3.45" fill="none" stroke="#aaaab6" stroke-width="1.05"/>
<circle cx="519.7" cy="151.2" r="3.45" fill="none" stroke="#aaaab6" stroke-width="1.05"/>
<circle cx="511.5" cy="155.7" r="3.45" fill="none" stroke="#aaaab6" stroke-width="1.05"/>
<circle cx="507.2" cy="152.3" r="3.45" fill="none" stroke="#aaaab6" stroke-width="1.05"/>
<circle cx="501.6" cy="157.1" r="3.45" fill="none" stroke="#aaaab6" stroke-width="1.05"/>
<circle cx="510.5" cy="141.5" r="3.45" fill="none" stroke="#aaaab6" stroke-width="1.05"/>
<circle cx="518.4" cy="167.6" r="3.45" fill="none" stroke="#aaaab6" stroke-width="1.05"/>
<circle cx="513.2" cy="170.7" r="3.45" fill="none" stroke="#aaaab6" stroke-width="1.05"/>
<circle cx="513.3" cy="172.2" r="3.45" fill="none" stroke="#aaaab6" stroke-width="1.05"/>
<circle cx="513.8" cy="157.4" r="3.45" fill="none" stroke="#aaaab6" stroke-width="1.05"/>
<circle cx="516.1" cy="153.3" r="3.45" fill="none" stroke="#aaaab6" stroke-width="1.05"/>
<circle cx="506.2" cy="157.9" r="3.45" fill="none" stroke="#aaaab6" stroke-width="1.05"/>
<circle cx="511.8" cy="143.1" r="3.45" fill="none" stroke="#aaaab6" stroke-width="1.05"/>
<circle cx="511.6" cy="139.1" r="3.45" fill="none" stroke="#aaaab6" stroke-width="1.05"/>
<circle cx="507.9" cy="137.5" r="3.45" fill="none" stroke="#aaaab6" stroke-width="1.05"/>
<circle cx="510.1" cy="161.0" r="3.45" fill="none" stroke="#aaaab6" stroke-width="1.05"/>
<circle cx="513.4" cy="150.3" r="3.45" fill="none" stroke="#aaaab6" stroke-width="1.05"/>
<circle cx="514.2" cy="130.9" r="3.45" fill="none" stroke="#aaaab6" stroke-width="1.05"/>
<circle cx="509.9" cy="128.3" r="3.45" fill="none" stroke="#aaaab6" stroke-width="1.05"/>
<circle cx="506.5" cy="167.1" r="3.45" fill="none" stroke="#aaaab6" stroke-width="1.05"/>
<circle cx="507.6" cy="180.9" r="3.45" fill="none" stroke="#aaaab6" stroke-width="1.05"/>
<circle cx="495.7" cy="45.8" r="3.45" fill="none" stroke="#aaaab6" stroke-width="1.05"/>
<circle cx="499.8" cy="44.0" r="3.45" fill="none" stroke="#aaaab6" stroke-width="1.05"/>
<circle cx="505.6" cy="42.8" r="3.45" fill="none" stroke="#aaaab6" stroke-width="1.05"/>
<circle cx="513.2" cy="45.8" r="3.45" fill="none" stroke="#aaaab6" stroke-width="1.05"/>
<circle cx="504.5" cy="55.1" r="3.45" fill="none" stroke="#aaaab6" stroke-width="1.05"/>
<circle cx="509.7" cy="54.5" r="3.45" fill="none" stroke="#aaaab6" stroke-width="1.05"/>
<circle cx="515.0" cy="53.4" r="3.45" fill="none" stroke="#aaaab6" stroke-width="1.05"/>
<circle cx="512.0" cy="57.4" r="3.45" fill="none" stroke="#aaaab6" stroke-width="1.05"/>
<circle cx="502.7" cy="61.5" r="3.45" fill="none" stroke="#aaaab6" stroke-width="1.05"/>
<circle cx="508.5" cy="60.4" r="3.45" fill="none" stroke="#aaaab6" stroke-width="1.05"/>
<circle cx="513.2" cy="60.4" r="3.45" fill="none" stroke="#aaaab6" stroke-width="1.05"/>
<circle cx="527.2" cy="65.6" r="3.45" fill="none" stroke="#aaaab6" stroke-width="1.05"/>
<circle cx="505.0" cy="71.5" r="3.45" fill="none" stroke="#aaaab6" stroke-width="1.05"/>
<circle cx="510.3" cy="66.8" r="3.45" fill="none" stroke="#aaaab6" stroke-width="1.05"/>
<circle cx="516.7" cy="69.7" r="3.45" fill="none" stroke="#aaaab6" stroke-width="1.05"/>
<circle cx="517.9" cy="72.0" r="3.45" fill="none" stroke="#aaaab6" stroke-width="1.05"/>
<circle cx="514.4" cy="74.4" r="3.45" fill="none" stroke="#aaaab6" stroke-width="1.05"/>
<circle cx="510.9" cy="77.9" r="3.45" fill="none" stroke="#aaaab6" stroke-width="1.05"/>
<line x1="467.50" y1="6.00" x2="467.50" y2="234.50" stroke="#333333" stroke-width="1.1" stroke-dasharray="5.5 2.3" stroke-dashoffset="1.1"/>
<path d="M467.50,239.90 L463.20,231.60 L467.50,234.30 L471.80,231.60 Z" fill="#111"/>
<line x1="551.50" y1="6.00" x2="551.50" y2="234.50" stroke="#333333" stroke-width="1.1" stroke-dasharray="5.5 2.3" stroke-dashoffset="1.1"/>
<path d="M551.50,239.90 L547.20,231.60 L551.50,234.30 L555.80,231.60 Z" fill="#111"/>
<line x1="341.50" y1="240.50" x2="341.50" y2="244.10" stroke="#3f3f3f" stroke-width="1.1" />
<line x1="362.50" y1="240.50" x2="362.50" y2="243.30" stroke="#3f3f3f" stroke-width="1.1" />
<line x1="383.50" y1="240.50" x2="383.50" y2="244.10" stroke="#3f3f3f" stroke-width="1.1" />
<line x1="404.50" y1="240.50" x2="404.50" y2="243.30" stroke="#3f3f3f" stroke-width="1.1" />
<line x1="425.50" y1="240.50" x2="425.50" y2="244.10" stroke="#3f3f3f" stroke-width="1.1" />
<line x1="446.50" y1="240.50" x2="446.50" y2="243.30" stroke="#3f3f3f" stroke-width="1.1" />
<line x1="467.50" y1="240.50" x2="467.50" y2="244.10" stroke="#3f3f3f" stroke-width="1.1" />
<line x1="488.50" y1="240.50" x2="488.50" y2="243.30" stroke="#3f3f3f" stroke-width="1.1" />
<line x1="509.50" y1="240.50" x2="509.50" y2="244.10" stroke="#3f3f3f" stroke-width="1.1" />
<line x1="530.50" y1="240.50" x2="530.50" y2="243.30" stroke="#3f3f3f" stroke-width="1.1" />
<line x1="551.50" y1="240.50" x2="551.50" y2="244.10" stroke="#3f3f3f" stroke-width="1.1" />
<line x1="572.50" y1="240.50" x2="572.50" y2="243.30" stroke="#3f3f3f" stroke-width="1.1" />
<line x1="593.50" y1="240.50" x2="593.50" y2="244.10" stroke="#3f3f3f" stroke-width="1.1" />
<line x1="614.50" y1="240.50" x2="614.50" y2="243.30" stroke="#3f3f3f" stroke-width="1.1" />
<line x1="635.50" y1="240.50" x2="635.50" y2="244.10" stroke="#3f3f3f" stroke-width="1.1" />
<line x1="656.50" y1="240.50" x2="656.50" y2="243.30" stroke="#3f3f3f" stroke-width="1.1" />
<line x1="677.50" y1="240.50" x2="677.50" y2="244.10" stroke="#3f3f3f" stroke-width="1.1" />
<line x1="337.70" y1="240.50" x2="341.50" y2="240.50" stroke="#3f3f3f" stroke-width="1.1" />
<text x="331.00" y="243.50" font-size="11.5" text-anchor="end" font-weight="normal" font-style="normal" fill="#000" >16</text>
<line x1="338.30" y1="223.75" x2="341.50" y2="223.75" stroke="#3f3f3f" stroke-width="1.1" />
<line x1="337.70" y1="207.00" x2="341.50" y2="207.00" stroke="#3f3f3f" stroke-width="1.1" />
<text x="331.00" y="210.00" font-size="11.5" text-anchor="end" font-weight="normal" font-style="normal" fill="#000" >18</text>
<line x1="338.30" y1="190.25" x2="341.50" y2="190.25" stroke="#3f3f3f" stroke-width="1.1" />
<line x1="337.70" y1="173.50" x2="341.50" y2="173.50" stroke="#3f3f3f" stroke-width="1.1" />
<text x="331.00" y="176.50" font-size="11.5" text-anchor="end" font-weight="normal" font-style="normal" fill="#000" >20</text>
<line x1="338.30" y1="156.75" x2="341.50" y2="156.75" stroke="#3f3f3f" stroke-width="1.1" />
<line x1="337.70" y1="140.00" x2="341.50" y2="140.00" stroke="#3f3f3f" stroke-width="1.1" />
<text x="331.00" y="143.00" font-size="11.5" text-anchor="end" font-weight="normal" font-style="normal" fill="#000" >22</text>
<line x1="338.30" y1="123.25" x2="341.50" y2="123.25" stroke="#3f3f3f" stroke-width="1.1" />
<line x1="337.70" y1="106.50" x2="341.50" y2="106.50" stroke="#3f3f3f" stroke-width="1.1" />
<text x="331.00" y="109.50" font-size="11.5" text-anchor="end" font-weight="normal" font-style="normal" fill="#000" >24</text>
<line x1="338.30" y1="89.75" x2="341.50" y2="89.75" stroke="#3f3f3f" stroke-width="1.1" />
<line x1="337.70" y1="73.00" x2="341.50" y2="73.00" stroke="#3f3f3f" stroke-width="1.1" />
<text x="331.00" y="76.00" font-size="11.5" text-anchor="end" font-weight="normal" font-style="normal" fill="#000" >26</text>
<line x1="338.30" y1="56.25" x2="341.50" y2="56.25" stroke="#3f3f3f" stroke-width="1.1" />
<line x1="337.70" y1="39.50" x2="341.50" y2="39.50" stroke="#3f3f3f" stroke-width="1.1" />
<text x="331.00" y="42.50" font-size="11.5" text-anchor="end" font-weight="normal" font-style="normal" fill="#000" >28</text>
<line x1="338.30" y1="22.75" x2="341.50" y2="22.75" stroke="#3f3f3f" stroke-width="1.1" />
<line x1="337.70" y1="6.00" x2="341.50" y2="6.00" stroke="#3f3f3f" stroke-width="1.1" />
<text x="331.00" y="9.00" font-size="11.5" text-anchor="end" font-weight="normal" font-style="normal" fill="#000" >30</text>
<text x="341.50" y="256.80" font-size="11.8" text-anchor="middle" font-weight="normal" font-style="normal" fill="#000" >-40</text>
<text x="383.50" y="256.80" font-size="11.8" text-anchor="middle" font-weight="normal" font-style="normal" fill="#000" >-30</text>
<text x="425.50" y="256.80" font-size="11.8" text-anchor="middle" font-weight="normal" font-style="normal" fill="#000" >-20</text>
<text x="467.50" y="256.80" font-size="11.8" text-anchor="middle" font-weight="normal" font-style="normal" fill="#000" >-10</text>
<text x="509.50" y="256.80" font-size="11.8" text-anchor="middle" font-weight="normal" font-style="normal" fill="#000" >0</text>
<text x="551.50" y="256.80" font-size="11.8" text-anchor="middle" font-weight="normal" font-style="normal" fill="#000" >10</text>
<text x="593.50" y="256.80" font-size="11.8" text-anchor="middle" font-weight="normal" font-style="normal" fill="#000" >20</text>
<text x="635.50" y="256.80" font-size="11.8" text-anchor="middle" font-weight="normal" font-style="normal" fill="#000" >30</text>
<text x="677.50" y="256.80" font-size="11.8" text-anchor="middle" font-weight="normal" font-style="normal" fill="#000" >40</text>
<defs><linearGradient id="g2a" x1="0" x2="1" y1="0" y2="0"><stop offset="0" stop-color="#fafff0"/><stop offset="0.35" stop-color="#effcd2"/><stop offset="1" stop-color="#dff98e"/></linearGradient><linearGradient id="g2b" x1="0" x2="1" y1="0" y2="0"><stop offset="0" stop-color="#e5fc98"/><stop offset="1" stop-color="#fbfff0"/></linearGradient></defs>
<rect x="467.00" y="330.5" width="40.75" height="234.0" fill="url(#g2a)"/>
<rect x="507.75" y="330.5" width="41.56" height="234.0" fill="url(#g2b)"/>
<rect x="341.5" y="330.5" width="332.5" height="234.0" fill="none" stroke="#3f3f3f" stroke-width="1.2"/>
<line x1="507.75" y1="330.50" x2="507.75" y2="564.50" stroke="#2a2a2a" stroke-width="1.15" stroke-opacity="0.82"/>
<circle cx="507.6" cy="375.2" r="3.45" fill="none" stroke="#4545f5" stroke-width="1.05"/>
<circle cx="501.2" cy="382.4" r="3.45" fill="none" stroke="#4545f5" stroke-width="1.05"/>
<circle cx="508.0" cy="383.9" r="3.45" fill="none" stroke="#4545f5" stroke-width="1.05"/>
<circle cx="503.9" cy="400.3" r="3.45" fill="none" stroke="#4545f5" stroke-width="1.05"/>
<circle cx="505.0" cy="403.8" r="3.45" fill="none" stroke="#4545f5" stroke-width="1.05"/>
<circle cx="516.1" cy="405.5" r="3.45" fill="none" stroke="#4545f5" stroke-width="1.05"/>
<circle cx="503.5" cy="451.3" r="3.45" fill="none" stroke="#4545f5" stroke-width="1.05"/>
<circle cx="508.9" cy="465.9" r="3.45" fill="none" stroke="#4545f5" stroke-width="1.05"/>
<circle cx="511.1" cy="469.8" r="3.45" fill="none" stroke="#4545f5" stroke-width="1.05"/>
<circle cx="512.7" cy="476.9" r="3.45" fill="none" stroke="#4545f5" stroke-width="1.05"/>
<circle cx="500.6" cy="481.7" r="3.45" fill="none" stroke="#4545f5" stroke-width="1.05"/>
<circle cx="511.1" cy="489.6" r="3.45" fill="none" stroke="#4545f5" stroke-width="1.05"/>
<circle cx="510.5" cy="490.2" r="3.45" fill="none" stroke="#4545f5" stroke-width="1.05"/>
<circle cx="499.2" cy="495.8" r="3.45" fill="none" stroke="#4545f5" stroke-width="1.05"/>
<circle cx="500.6" cy="498.0" r="3.45" fill="none" stroke="#4545f5" stroke-width="1.05"/>
<circle cx="513.0" cy="501.9" r="3.45" fill="none" stroke="#4545f5" stroke-width="1.05"/>
<circle cx="499.8" cy="506.8" r="3.45" fill="none" stroke="#4545f5" stroke-width="1.05"/>
<circle cx="502.5" cy="509.8" r="3.45" fill="none" stroke="#4545f5" stroke-width="1.05"/>
<circle cx="507.1" cy="509.8" r="3.45" fill="none" stroke="#4545f5" stroke-width="1.05"/>
<circle cx="507.6" cy="514.2" r="3.45" fill="none" stroke="#4545f5" stroke-width="1.05"/>
<circle cx="517.9" cy="514.7" r="3.45" fill="none" stroke="#4545f5" stroke-width="1.05"/>
<circle cx="516.5" cy="519.7" r="3.45" fill="none" stroke="#4545f5" stroke-width="1.05"/>
<line x1="467.00" y1="330.50" x2="467.00" y2="558.50" stroke="#333333" stroke-width="1.1" stroke-dasharray="5.5 2.3" stroke-dashoffset="1.1"/>
<path d="M467.00,563.90 L462.70,555.60 L467.00,558.30 L471.30,555.60 Z" fill="#111"/>
<line x1="549.31" y1="330.50" x2="549.31" y2="558.50" stroke="#333333" stroke-width="1.1" stroke-dasharray="5.5 2.3" stroke-dashoffset="1.1"/>
<path d="M549.31,563.90 L545.01,555.60 L549.31,558.30 L553.61,555.60 Z" fill="#111"/>
<line x1="341.50" y1="564.50" x2="341.50" y2="568.10" stroke="#3f3f3f" stroke-width="1.1" />
<line x1="362.28" y1="564.50" x2="362.28" y2="567.30" stroke="#3f3f3f" stroke-width="1.1" />
<line x1="383.06" y1="564.50" x2="383.06" y2="568.10" stroke="#3f3f3f" stroke-width="1.1" />
<line x1="403.84" y1="564.50" x2="403.84" y2="567.30" stroke="#3f3f3f" stroke-width="1.1" />
<line x1="424.62" y1="564.50" x2="424.62" y2="568.10" stroke="#3f3f3f" stroke-width="1.1" />
<line x1="445.41" y1="564.50" x2="445.41" y2="567.30" stroke="#3f3f3f" stroke-width="1.1" />
<line x1="466.19" y1="564.50" x2="466.19" y2="568.10" stroke="#3f3f3f" stroke-width="1.1" />
<line x1="486.97" y1="564.50" x2="486.97" y2="567.30" stroke="#3f3f3f" stroke-width="1.1" />
<line x1="507.75" y1="564.50" x2="507.75" y2="568.10" stroke="#3f3f3f" stroke-width="1.1" />
<line x1="528.53" y1="564.50" x2="528.53" y2="567.30" stroke="#3f3f3f" stroke-width="1.1" />
<line x1="549.31" y1="564.50" x2="549.31" y2="568.10" stroke="#3f3f3f" stroke-width="1.1" />
<line x1="570.09" y1="564.50" x2="570.09" y2="567.30" stroke="#3f3f3f" stroke-width="1.1" />
<line x1="590.88" y1="564.50" x2="590.88" y2="568.10" stroke="#3f3f3f" stroke-width="1.1" />
<line x1="611.66" y1="564.50" x2="611.66" y2="567.30" stroke="#3f3f3f" stroke-width="1.1" />
<line x1="632.44" y1="564.50" x2="632.44" y2="568.10" stroke="#3f3f3f" stroke-width="1.1" />
<line x1="653.22" y1="564.50" x2="653.22" y2="567.30" stroke="#3f3f3f" stroke-width="1.1" />
<line x1="674.00" y1="564.50" x2="674.00" y2="568.10" stroke="#3f3f3f" stroke-width="1.1" />
<line x1="337.70" y1="564.50" x2="341.50" y2="564.50" stroke="#3f3f3f" stroke-width="1.1" />
<text x="331.00" y="567.50" font-size="11.5" text-anchor="end" font-weight="normal" font-style="normal" fill="#000" >16</text>
<line x1="338.30" y1="547.79" x2="341.50" y2="547.79" stroke="#3f3f3f" stroke-width="1.1" />
<line x1="337.70" y1="531.07" x2="341.50" y2="531.07" stroke="#3f3f3f" stroke-width="1.1" />
<text x="331.00" y="534.07" font-size="11.5" text-anchor="end" font-weight="normal" font-style="normal" fill="#000" >18</text>
<line x1="338.30" y1="514.36" x2="341.50" y2="514.36" stroke="#3f3f3f" stroke-width="1.1" />
<line x1="337.70" y1="497.64" x2="341.50" y2="497.64" stroke="#3f3f3f" stroke-width="1.1" />
<text x="331.00" y="500.64" font-size="11.5" text-anchor="end" font-weight="normal" font-style="normal" fill="#000" >20</text>
<line x1="338.30" y1="480.93" x2="341.50" y2="480.93" stroke="#3f3f3f" stroke-width="1.1" />
<line x1="337.70" y1="464.21" x2="341.50" y2="464.21" stroke="#3f3f3f" stroke-width="1.1" />
<text x="331.00" y="467.21" font-size="11.5" text-anchor="end" font-weight="normal" font-style="normal" fill="#000" >22</text>
<line x1="338.30" y1="447.50" x2="341.50" y2="447.50" stroke="#3f3f3f" stroke-width="1.1" />
<line x1="337.70" y1="430.79" x2="341.50" y2="430.79" stroke="#3f3f3f" stroke-width="1.1" />
<text x="331.00" y="433.79" font-size="11.5" text-anchor="end" font-weight="normal" font-style="normal" fill="#000" >24</text>
<line x1="338.30" y1="414.07" x2="341.50" y2="414.07" stroke="#3f3f3f" stroke-width="1.1" />
<line x1="337.70" y1="397.36" x2="341.50" y2="397.36" stroke="#3f3f3f" stroke-width="1.1" />
<text x="331.00" y="400.36" font-size="11.5" text-anchor="end" font-weight="normal" font-style="normal" fill="#000" >26</text>
<line x1="338.30" y1="380.64" x2="341.50" y2="380.64" stroke="#3f3f3f" stroke-width="1.1" />
<line x1="337.70" y1="363.93" x2="341.50" y2="363.93" stroke="#3f3f3f" stroke-width="1.1" />
<text x="331.00" y="366.93" font-size="11.5" text-anchor="end" font-weight="normal" font-style="normal" fill="#000" >28</text>
<line x1="338.30" y1="347.21" x2="341.50" y2="347.21" stroke="#3f3f3f" stroke-width="1.1" />
<line x1="337.70" y1="330.50" x2="341.50" y2="330.50" stroke="#3f3f3f" stroke-width="1.1" />
<text x="331.00" y="333.50" font-size="11.5" text-anchor="end" font-weight="normal" font-style="normal" fill="#000" >30</text>
<text x="341.50" y="581.90" font-size="11.8" text-anchor="middle" font-weight="normal" font-style="normal" fill="#000" >-40</text>
<text x="383.06" y="581.90" font-size="11.8" text-anchor="middle" font-weight="normal" font-style="normal" fill="#000" >-30</text>
<text x="424.62" y="581.90" font-size="11.8" text-anchor="middle" font-weight="normal" font-style="normal" fill="#000" >-20</text>
<text x="466.19" y="581.90" font-size="11.8" text-anchor="middle" font-weight="normal" font-style="normal" fill="#000" >-10</text>
<text x="507.75" y="581.90" font-size="11.8" text-anchor="middle" font-weight="normal" font-style="normal" fill="#000" >0</text>
<text x="549.31" y="581.90" font-size="11.8" text-anchor="middle" font-weight="normal" font-style="normal" fill="#000" >10</text>
<text x="590.88" y="581.90" font-size="11.8" text-anchor="middle" font-weight="normal" font-style="normal" fill="#000" >20</text>
<text x="632.44" y="581.90" font-size="11.8" text-anchor="middle" font-weight="normal" font-style="normal" fill="#000" >30</text>
<text x="674.00" y="581.90" font-size="11.8" text-anchor="middle" font-weight="normal" font-style="normal" fill="#000" >40</text>
<defs><linearGradient id="g3a" x1="0" x2="1" y1="0" y2="0"><stop offset="0" stop-color="#fafff0"/><stop offset="0.35" stop-color="#effcd2"/><stop offset="1" stop-color="#dff98e"/></linearGradient><linearGradient id="g3b" x1="0" x2="1" y1="0" y2="0"><stop offset="0" stop-color="#e5fc98"/><stop offset="1" stop-color="#fbfff0"/></linearGradient></defs>
<rect x="467.64" y="656.7" width="41.71" height="233.79999999999995" fill="url(#g3a)"/>
<rect x="509.35" y="656.7" width="41.71" height="233.79999999999995" fill="url(#g3b)"/>
<rect x="342.5" y="656.7" width="333.70000000000005" height="233.79999999999995" fill="none" stroke="#3f3f3f" stroke-width="1.2"/>
<line x1="509.35" y1="656.70" x2="509.35" y2="890.50" stroke="#2a2a2a" stroke-width="1.15" stroke-opacity="0.82"/>
<circle cx="519.9" cy="673.1" r="3.45" fill="none" stroke="#ff3a2a" stroke-width="1.05"/>
<circle cx="500.7" cy="715.2" r="3.45" fill="none" stroke="#ff3a2a" stroke-width="1.05"/>
<circle cx="512.6" cy="714.7" r="3.45" fill="none" stroke="#ff3a2a" stroke-width="1.05"/>
<circle cx="503.5" cy="721.1" r="3.45" fill="none" stroke="#ff3a2a" stroke-width="1.05"/>
<circle cx="511.1" cy="724.6" r="3.45" fill="none" stroke="#ff3a2a" stroke-width="1.05"/>
<circle cx="511.8" cy="778.8" r="3.45" fill="none" stroke="#ff3a2a" stroke-width="1.05"/>
<circle cx="508.9" cy="790.1" r="3.45" fill="none" stroke="#ff3a2a" stroke-width="1.05"/>
<circle cx="516.4" cy="792.0" r="3.45" fill="none" stroke="#ff3a2a" stroke-width="1.05"/>
<circle cx="515.0" cy="795.9" r="3.45" fill="none" stroke="#ff3a2a" stroke-width="1.05"/>
<circle cx="513.4" cy="798.4" r="3.45" fill="none" stroke="#ff3a2a" stroke-width="1.05"/>
<circle cx="519.3" cy="798.6" r="3.45" fill="none" stroke="#ff3a2a" stroke-width="1.05"/>
<circle cx="501.3" cy="799.8" r="3.45" fill="none" stroke="#ff3a2a" stroke-width="1.05"/>
<circle cx="498.4" cy="807.7" r="3.45" fill="none" stroke="#ff3a2a" stroke-width="1.05"/>
<circle cx="508.0" cy="807.6" r="3.45" fill="none" stroke="#ff3a2a" stroke-width="1.05"/>
<circle cx="509.7" cy="817.9" r="3.45" fill="none" stroke="#ff3a2a" stroke-width="1.05"/>
<circle cx="504.8" cy="821.7" r="3.45" fill="none" stroke="#ff3a2a" stroke-width="1.05"/>
<circle cx="519.9" cy="822.9" r="3.45" fill="none" stroke="#ff3a2a" stroke-width="1.05"/>
<circle cx="515.5" cy="830.1" r="3.45" fill="none" stroke="#ff3a2a" stroke-width="1.05"/>
<circle cx="507.6" cy="832.1" r="3.45" fill="none" stroke="#ff3a2a" stroke-width="1.05"/>
<circle cx="512.6" cy="840.7" r="3.45" fill="none" stroke="#ff3a2a" stroke-width="1.05"/>
<circle cx="490.8" cy="865.2" r="3.45" fill="none" stroke="#ff3a2a" stroke-width="1.05"/>
<line x1="467.64" y1="656.70" x2="467.64" y2="884.50" stroke="#333333" stroke-width="1.1" stroke-dasharray="5.5 2.3" stroke-dashoffset="1.1"/>
<path d="M467.64,889.90 L463.34,881.60 L467.64,884.30 L471.94,881.60 Z" fill="#111"/>
<line x1="551.06" y1="656.70" x2="551.06" y2="884.50" stroke="#333333" stroke-width="1.1" stroke-dasharray="5.5 2.3" stroke-dashoffset="1.1"/>
<path d="M551.06,889.90 L546.76,881.60 L551.06,884.30 L555.36,881.60 Z" fill="#111"/>
<line x1="342.50" y1="890.50" x2="342.50" y2="894.10" stroke="#3f3f3f" stroke-width="1.1" />
<line x1="363.36" y1="890.50" x2="363.36" y2="893.30" stroke="#3f3f3f" stroke-width="1.1" />
<line x1="384.21" y1="890.50" x2="384.21" y2="894.10" stroke="#3f3f3f" stroke-width="1.1" />
<line x1="405.07" y1="890.50" x2="405.07" y2="893.30" stroke="#3f3f3f" stroke-width="1.1" />
<line x1="425.93" y1="890.50" x2="425.93" y2="894.10" stroke="#3f3f3f" stroke-width="1.1" />
<line x1="446.78" y1="890.50" x2="446.78" y2="893.30" stroke="#3f3f3f" stroke-width="1.1" />
<line x1="467.64" y1="890.50" x2="467.64" y2="894.10" stroke="#3f3f3f" stroke-width="1.1" />
<line x1="488.49" y1="890.50" x2="488.49" y2="893.30" stroke="#3f3f3f" stroke-width="1.1" />
<line x1="509.35" y1="890.50" x2="509.35" y2="894.10" stroke="#3f3f3f" stroke-width="1.1" />
<line x1="530.21" y1="890.50" x2="530.21" y2="893.30" stroke="#3f3f3f" stroke-width="1.1" />
<line x1="551.06" y1="890.50" x2="551.06" y2="894.10" stroke="#3f3f3f" stroke-width="1.1" />
<line x1="571.92" y1="890.50" x2="571.92" y2="893.30" stroke="#3f3f3f" stroke-width="1.1" />
<line x1="592.78" y1="890.50" x2="592.78" y2="894.10" stroke="#3f3f3f" stroke-width="1.1" />
<line x1="613.63" y1="890.50" x2="613.63" y2="893.30" stroke="#3f3f3f" stroke-width="1.1" />
<line x1="634.49" y1="890.50" x2="634.49" y2="894.10" stroke="#3f3f3f" stroke-width="1.1" />
<line x1="655.34" y1="890.50" x2="655.34" y2="893.30" stroke="#3f3f3f" stroke-width="1.1" />
<line x1="676.20" y1="890.50" x2="676.20" y2="894.10" stroke="#3f3f3f" stroke-width="1.1" />
<line x1="338.70" y1="890.50" x2="342.50" y2="890.50" stroke="#3f3f3f" stroke-width="1.1" />
<text x="332.00" y="893.50" font-size="11.5" text-anchor="end" font-weight="normal" font-style="normal" fill="#000" >16</text>
<line x1="339.30" y1="873.80" x2="342.50" y2="873.80" stroke="#3f3f3f" stroke-width="1.1" />
<line x1="338.70" y1="857.10" x2="342.50" y2="857.10" stroke="#3f3f3f" stroke-width="1.1" />
<text x="332.00" y="860.10" font-size="11.5" text-anchor="end" font-weight="normal" font-style="normal" fill="#000" >18</text>
<line x1="339.30" y1="840.40" x2="342.50" y2="840.40" stroke="#3f3f3f" stroke-width="1.1" />
<line x1="338.70" y1="823.70" x2="342.50" y2="823.70" stroke="#3f3f3f" stroke-width="1.1" />
<text x="332.00" y="826.70" font-size="11.5" text-anchor="end" font-weight="normal" font-style="normal" fill="#000" >20</text>
<line x1="339.30" y1="807.00" x2="342.50" y2="807.00" stroke="#3f3f3f" stroke-width="1.1" />
<line x1="338.70" y1="790.30" x2="342.50" y2="790.30" stroke="#3f3f3f" stroke-width="1.1" />
<text x="332.00" y="793.30" font-size="11.5" text-anchor="end" font-weight="normal" font-style="normal" fill="#000" >22</text>
<line x1="339.30" y1="773.60" x2="342.50" y2="773.60" stroke="#3f3f3f" stroke-width="1.1" />
<line x1="338.70" y1="756.90" x2="342.50" y2="756.90" stroke="#3f3f3f" stroke-width="1.1" />
<text x="332.00" y="759.90" font-size="11.5" text-anchor="end" font-weight="normal" font-style="normal" fill="#000" >24</text>
<line x1="339.30" y1="740.20" x2="342.50" y2="740.20" stroke="#3f3f3f" stroke-width="1.1" />
<line x1="338.70" y1="723.50" x2="342.50" y2="723.50" stroke="#3f3f3f" stroke-width="1.1" />
<text x="332.00" y="726.50" font-size="11.5" text-anchor="end" font-weight="normal" font-style="normal" fill="#000" >26</text>
<line x1="339.30" y1="706.80" x2="342.50" y2="706.80" stroke="#3f3f3f" stroke-width="1.1" />
<line x1="338.70" y1="690.10" x2="342.50" y2="690.10" stroke="#3f3f3f" stroke-width="1.1" />
<text x="332.00" y="693.10" font-size="11.5" text-anchor="end" font-weight="normal" font-style="normal" fill="#000" >28</text>
<line x1="339.30" y1="673.40" x2="342.50" y2="673.40" stroke="#3f3f3f" stroke-width="1.1" />
<line x1="338.70" y1="656.70" x2="342.50" y2="656.70" stroke="#3f3f3f" stroke-width="1.1" />
<text x="332.00" y="659.70" font-size="11.5" text-anchor="end" font-weight="normal" font-style="normal" fill="#000" >30</text>
<text x="342.50" y="907.90" font-size="11.8" text-anchor="middle" font-weight="normal" font-style="normal" fill="#000" >-40</text>
<text x="384.21" y="907.90" font-size="11.8" text-anchor="middle" font-weight="normal" font-style="normal" fill="#000" >-30</text>
<text x="425.93" y="907.90" font-size="11.8" text-anchor="middle" font-weight="normal" font-style="normal" fill="#000" >-20</text>
<text x="467.64" y="907.90" font-size="11.8" text-anchor="middle" font-weight="normal" font-style="normal" fill="#000" >-10</text>
<text x="509.35" y="907.90" font-size="11.8" text-anchor="middle" font-weight="normal" font-style="normal" fill="#000" >0</text>
<text x="551.06" y="907.90" font-size="11.8" text-anchor="middle" font-weight="normal" font-style="normal" fill="#000" >10</text>
<text x="592.78" y="907.90" font-size="11.8" text-anchor="middle" font-weight="normal" font-style="normal" fill="#000" >20</text>
<text x="634.49" y="907.90" font-size="11.8" text-anchor="middle" font-weight="normal" font-style="normal" fill="#000" >30</text>
<text x="676.20" y="907.90" font-size="11.8" text-anchor="middle" font-weight="normal" font-style="normal" fill="#000" >40</text>
<text x="49.20" y="27.40" font-size="13" font-weight="bold" font-style="normal" fill="#000" textLength="61.40" lengthAdjust="spacingAndGlyphs">ANN-BBO</text>
<text x="48.80" y="50.50" font-size="13" font-weight="bold" font-style="italic" fill="#8e8e8e" textLength="51.00" lengthAdjust="spacingAndGlyphs">Training</text>
<text x="102.00" y="50.50" font-size="13" font-weight="bold" font-style="italic" fill="#8e8e8e" textLength="13.80" lengthAdjust="spacingAndGlyphs">set</text>
<text x="49.00" y="71.30" font-size="12" font-weight="bold" font-style="italic" fill="#000" textLength="57.60" lengthAdjust="spacingAndGlyphs">R² = 0.9845</text>
<text x="151.40" y="27.90" font-size="12" font-weight="normal" font-style="italic" fill="#000" textLength="39.80" lengthAdjust="spacingAndGlyphs">y = 1.1x</text>
<text x="216.60" y="115.70" font-size="12" font-weight="normal" font-style="italic" fill="#000" textLength="39.60" lengthAdjust="spacingAndGlyphs">y = 0.9x</text>
<text x="94.80" y="274.50" font-size="11.8" font-weight="bold" font-style="normal" fill="#000" textLength="94.20" lengthAdjust="spacingAndGlyphs">Measured FV (cm)</text>
<text transform="translate(10.00,153.20) rotate(-90)" x="0" y="0" font-size="11.8" font-weight="bold" font-style="normal" fill="#000" textLength="92.60" lengthAdjust="spacingAndGlyphs">Predicted FV (cm)</text>
<text x="51.20" y="353.30" font-size="13" font-weight="bold" font-style="normal" fill="#000" textLength="61.60" lengthAdjust="spacingAndGlyphs">ANN-BBO</text>
<text x="51.40" y="376.20" font-size="13" font-weight="bold" font-style="italic" fill="#1c1cff" textLength="58.20" lengthAdjust="spacingAndGlyphs">Validating</text>
<text x="112.00" y="376.20" font-size="13" font-weight="bold" font-style="italic" fill="#1c1cff" textLength="13.80" lengthAdjust="spacingAndGlyphs">set</text>
<text x="51.00" y="397.60" font-size="12" font-weight="bold" font-style="italic" fill="#000" textLength="57.60" lengthAdjust="spacingAndGlyphs">R² = 0.9905</text>
<text x="159.20" y="355.70" font-size="12" font-weight="normal" font-style="italic" fill="#000" textLength="40.00" lengthAdjust="spacingAndGlyphs">y = 1.1x</text>
<text x="216.60" y="440.60" font-size="12" font-weight="normal" font-style="italic" fill="#000" textLength="39.40" lengthAdjust="spacingAndGlyphs">y = 0.9x</text>
<text x="97.20" y="599.60" font-size="11.8" font-weight="bold" font-style="normal" fill="#000" textLength="95.00" lengthAdjust="spacingAndGlyphs">Measured FV (cm)</text>
<text transform="translate(12.90,478.40) rotate(-90)" x="0" y="0" font-size="11.8" font-weight="bold" font-style="normal" fill="#000" textLength="93.00" lengthAdjust="spacingAndGlyphs">Predicted FV (cm)</text>
<text x="52.20" y="679.30" font-size="13" font-weight="bold" font-style="normal" fill="#000" textLength="61.60" lengthAdjust="spacingAndGlyphs">ANN-BBO</text>
<text x="51.60" y="702.70" font-size="13" font-weight="bold" font-style="italic" fill="#ff0d0d" textLength="41.40" lengthAdjust="spacingAndGlyphs">Testing</text>
<text x="95.00" y="702.70" font-size="13" font-weight="bold" font-style="italic" fill="#ff0d0d" textLength="14.20" lengthAdjust="spacingAndGlyphs">set</text>
<text x="51.20" y="723.60" font-size="12" font-weight="bold" font-style="italic" fill="#000" textLength="58.20" lengthAdjust="spacingAndGlyphs">R² = 0.9823</text>
<text x="148.80" y="679.30" font-size="12" font-weight="normal" font-style="italic" fill="#000" textLength="39.60" lengthAdjust="spacingAndGlyphs">y = 1.1x</text>
<text x="216.00" y="766.00" font-size="12" font-weight="normal" font-style="italic" fill="#000" textLength="40.00" lengthAdjust="spacingAndGlyphs">y = 0.9x</text>
<text x="95.80" y="925.70" font-size="11.8" font-weight="bold" font-style="normal" fill="#000" textLength="94.60" lengthAdjust="spacingAndGlyphs">Measured FV (cm)</text>
<text transform="translate(10.90,804.20) rotate(-90)" x="0" y="0" font-size="11.8" font-weight="bold" font-style="normal" fill="#000" textLength="92.60" lengthAdjust="spacingAndGlyphs">Predicted FV (cm)</text>
<text x="352.00" y="23.00" font-size="13" font-weight="bold" font-style="normal" fill="#000" textLength="61.60" lengthAdjust="spacingAndGlyphs">ANN-BBO</text>
<text x="351.80" y="46.70" font-size="13" font-weight="bold" font-style="italic" fill="#8e8e8e" textLength="51.00" lengthAdjust="spacingAndGlyphs">Training</text>
<text x="405.00" y="46.70" font-size="13" font-weight="bold" font-style="italic" fill="#8e8e8e" textLength="13.80" lengthAdjust="spacingAndGlyphs">set</text>
<text x="351.80" y="67.60" font-size="12" font-weight="bold" font-style="italic" fill="#000" textLength="52.60" lengthAdjust="spacingAndGlyphs">A10-index</text>
<text x="405.60" y="67.60" font-size="12" font-weight="bold" font-style="italic" fill="#000" textLength="7.40" lengthAdjust="spacingAndGlyphs">=</text>
<text x="414.60" y="67.60" font-size="12" font-weight="bold" font-style="italic" fill="#000" textLength="29.80" lengthAdjust="spacingAndGlyphs">100%</text>
<text x="482.60" y="277.10" font-size="11.8" font-weight="bold" font-style="normal" fill="#000" textLength="51.80" lengthAdjust="spacingAndGlyphs">Error (%)</text>
<text transform="translate(308.80,153.20) rotate(-90)" x="0" y="0" font-size="11.8" font-weight="bold" font-style="normal" fill="#000" textLength="93.00" lengthAdjust="spacingAndGlyphs">Predicted FV (cm)</text>
<text x="354.00" y="349.20" font-size="13" font-weight="bold" font-style="normal" fill="#000" textLength="61.60" lengthAdjust="spacingAndGlyphs">ANN-BBO</text>
<text x="353.60" y="372.10" font-size="13" font-weight="bold" font-style="italic" fill="#1c1cff" textLength="58.80" lengthAdjust="spacingAndGlyphs">Validating</text>
<text x="414.00" y="372.10" font-size="13" font-weight="bold" font-style="italic" fill="#1c1cff" textLength="14.00" lengthAdjust="spacingAndGlyphs">set</text>
<text x="354.40" y="393.40" font-size="12" font-weight="bold" font-style="italic" fill="#000" textLength="51.40" lengthAdjust="spacingAndGlyphs">A10-index</text>
<text x="407.40" y="393.40" font-size="12" font-weight="bold" font-style="italic" fill="#000" textLength="6.60" lengthAdjust="spacingAndGlyphs">=</text>
<text x="415.60" y="393.40" font-size="12" font-weight="bold" font-style="italic" fill="#000" textLength="29.80" lengthAdjust="spacingAndGlyphs">100%</text>
<text x="481.20" y="602.80" font-size="11.8" font-weight="bold" font-style="normal" fill="#000" textLength="52.00" lengthAdjust="spacingAndGlyphs">Error (%)</text>
<text transform="translate(309.40,478.00) rotate(-90)" x="0" y="0" font-size="11.8" font-weight="bold" font-style="normal" fill="#000" textLength="93.00" lengthAdjust="spacingAndGlyphs">Predicted FV (cm)</text>
<text x="352.40" y="674.90" font-size="13" font-weight="bold" font-style="normal" fill="#000" textLength="61.80" lengthAdjust="spacingAndGlyphs">ANN-BBO</text>
<text x="352.60" y="697.80" font-size="13" font-weight="bold" font-style="italic" fill="#ff0d0d" textLength="41.40" lengthAdjust="spacingAndGlyphs">Testing</text>
<text x="396.00" y="697.80" font-size="13" font-weight="bold" font-style="italic" fill="#ff0d0d" textLength="14.20" lengthAdjust="spacingAndGlyphs">set</text>
<text x="352.60" y="719.50" font-size="12" font-weight="bold" font-style="italic" fill="#000" textLength="51.80" lengthAdjust="spacingAndGlyphs">A10-index</text>
<text x="406.80" y="719.50" font-size="12" font-weight="bold" font-style="italic" fill="#000" textLength="6.40" lengthAdjust="spacingAndGlyphs">=</text>
<text x="414.60" y="719.50" font-size="12" font-weight="bold" font-style="italic" fill="#000" textLength="29.80" lengthAdjust="spacingAndGlyphs">100%</text>
<text x="481.40" y="928.30" font-size="11.8" font-weight="bold" font-style="normal" fill="#000" textLength="51.80" lengthAdjust="spacingAndGlyphs">Error (%)</text>
<text transform="translate(309.40,804.20) rotate(-90)" x="0" y="0" font-size="11.8" font-weight="bold" font-style="normal" fill="#000" textLength="92.60" lengthAdjust="spacingAndGlyphs">Predicted FV (cm)</text>
</svg>
</body></html>
